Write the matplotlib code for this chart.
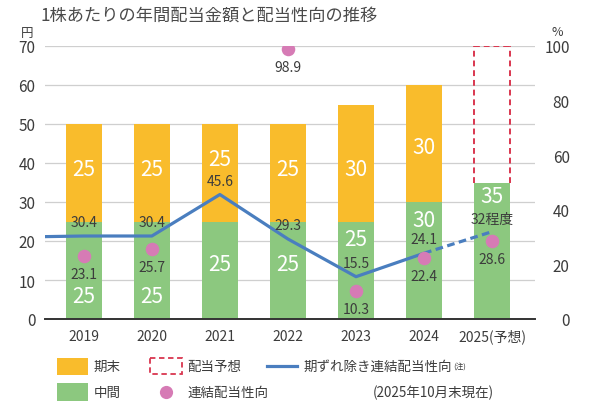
import numpy as np
import matplotlib.pyplot as plt
from matplotlib.patches import Rectangle
from matplotlib.lines import Line2D

plt.rcParams['font.family'] = ['Noto Sans CJK JP', 'DejaVu Sans']

# data
years = ['2019', '2020', '2021', '2022', '2023', '2024', '2025(予想)']
interim = [25, 25, 25, 25, 25, 30, 35]                      # 中間 (円)
year_end = [25, 25, 25, 25, 30, 30, np.nan]                  # 期末 (円)
year_end_forecast = [np.nan, np.nan, np.nan, np.nan, np.nan, np.nan, 35]  # 配当予想
payout = [23.1, 25.7, np.nan, 98.9, 10.3, 22.4, 28.6]        # 連結配当性向 (%)
adj_payout = [30.4, 30.4, 45.6, 29.3, 15.5, 24.1]            # 期ずれ除き (2019-2024)
adj_payout_prev = 30.0                                       # 2018, runs off the left edge
adj_payout_forecast = 32
adj_forecast_label = '32程度'

# label placement (yen scale), tuned to dodge the line and dots
interim_label_y = [6, 6, 14, 14, 20.5, 25.5, 31.5]
year_end_label_y = [38.5, 38.5, 41, 38.5, 38.5, 44]

ORANGE = '#F9BC2C'
GREEN = '#8CC87F'
BLUE = '#4A7EBF'
PINK = '#D67BB5'
RED = '#D9364F'
TXT = '#3C3C3C'

fig = plt.figure(figsize=(6, 4.1), dpi=100)
ax = fig.add_axes([45 / 600, 1 - 320 / 410, 490 / 600, 273 / 410])
ax2 = ax.twinx()

x = np.arange(len(years))
w = 0.53
ax.bar(x, interim, width=w, color=GREEN, zorder=2)
ax.bar(x[:6], year_end[:6], width=w, bottom=interim[:6], color=ORANGE, zorder=2)

# forecast box: open at the bottom, sitting on the interim bar
dash = (0, (3, 2))
for i, v in enumerate(year_end_forecast):
    if np.isnan(v):
        continue
    lo, hi = interim[i], interim[i] + v
    ax.vlines([x[i] - w / 2, x[i] + w / 2], lo, hi, colors=RED, linestyles=dash,
              lw=1.4, zorder=2)
    ax.hlines(hi, x[i] - w / 2, x[i] + w / 2, colors=RED, linestyles=dash,
              lw=1.4, zorder=2)

for i in range(len(years)):
    ax.text(x[i], interim_label_y[i], str(interim[i]), ha='center', va='center',
            color='white', fontsize=15, zorder=3)
for i in range(6):
    ax.text(x[i], year_end_label_y[i], str(year_end[i]), ha='center', va='center',
            color='white', fontsize=15, zorder=3)

# payout ratio lines
ax2.plot(np.arange(-1, 6), [adj_payout_prev] + adj_payout, color=BLUE, lw=2.3,
         solid_capstyle='butt', zorder=3)
ax2.plot([5, 6], [adj_payout[-1], adj_payout_forecast], color=BLUE, lw=2.3,
         dashes=(2.4, 1.4), zorder=3)
ax2.scatter(x, payout, s=95, color=PINK, zorder=4, linewidths=0)

for i, v in enumerate(adj_payout):
    ax2.annotate(f'{v}', (x[i], v), xytext=(0, 5), textcoords='offset points',
                 ha='center', va='bottom', fontsize=10, color=TXT, zorder=5)
ax2.annotate(adj_forecast_label, (6, adj_payout_forecast), xytext=(0, 4),
             textcoords='offset points', ha='center', va='bottom', fontsize=10,
             color=TXT, zorder=5)
for i, v in enumerate(payout):
    if np.isnan(v):
        continue
    ax2.annotate(f'{v}', (x[i], v), xytext=(0, -8), textcoords='offset points',
                 ha='center', va='top', fontsize=10, color=TXT, zorder=5)

ax.set_xlim(-0.57, 6.63)
ax.set_ylim(0, 70)
ax2.set_ylim(0, 100)
ax.set_yticks(range(0, 71, 10))
ax2.set_yticks(range(0, 101, 20))
ax.set_xticks(x)
ax.set_xticklabels(years)
ax.grid(axis='y', color='#CFCFCF', lw=0.9, zorder=0)
ax.set_axisbelow(True)
for a in (ax, ax2):
    for s in ('top', 'left', 'right', 'bottom'):
        a.spines[s].set_visible(False)
ax.spines['bottom'].set_visible(True)
ax.spines['bottom'].set_color('#333333')
ax.spines['bottom'].set_linewidth(1.4)
ax.tick_params(axis='y', length=0, pad=7, labelsize=11, labelcolor=TXT)
ax.tick_params(axis='x', length=0, pad=7, labelsize=10, labelcolor=TXT)
ax2.tick_params(axis='y', length=0, pad=25, labelsize=11, labelcolor=TXT)
for lab in ax2.get_yticklabels():
    lab.set_horizontalalignment('right')

fig.text(40 / 600, 1 - 16 / 410, '1株あたりの年間配当金額と配当性向の推移',
         fontsize=12.4, color='#4A4A4A', va='center', ha='left')
fig.text(27 / 600, 1 - 33 / 410, '円', fontsize=9, color=TXT, ha='center', va='center')
fig.text(557 / 600, 1 - 32 / 410, '%', fontsize=9, color=TXT, ha='center', va='center')

# legend, laid out by hand in pixel space
lg = fig.add_axes([0, 0, 1, 1], zorder=-1)
lg.set_xlim(0, 600)
lg.set_ylim(410, 0)
lg.axis('off')
r1, r2 = 367, 393
lg.add_patch(Rectangle((57, r1 - 8.5), 31, 17, color=ORANGE, lw=0))
lg.add_patch(Rectangle((57, r2 - 9), 31, 18, color=GREEN, lw=0))
lg.add_patch(Rectangle((150, r1 - 8), 32, 16, fill=False, edgecolor=RED,
                       linestyle=dash, lw=1.3))
lg.add_line(Line2D([267, 297], [r1, r1], color=BLUE, lw=2.3))
lg.plot([166], [r2], 'o', color=PINK, ms=9.5, mew=0)
lk = dict(fontsize=9.7, color=TXT, va='center', ha='left')
lg.text(94, r1, '期末', **lk)
lg.text(94, r2, '中間', **lk)
lg.text(187, r1, '配当予想', **lk)
lg.text(187, r2, '連結配当性向', **lk)
t = lg.text(303, r1, '期ずれ除き連結配当性向', **lk)
lg.annotate('(注)', xy=(1, 1), xycoords=t, xytext=(1, -2), textcoords='offset points',
            fontsize=5.5, color=TXT, va='top', ha='left')
lg.text(494, r2, '(2025年10月末現在)', fontsize=9.7, color=TXT, va='center', ha='right')

fig.savefig('out.png', dpi=100)
